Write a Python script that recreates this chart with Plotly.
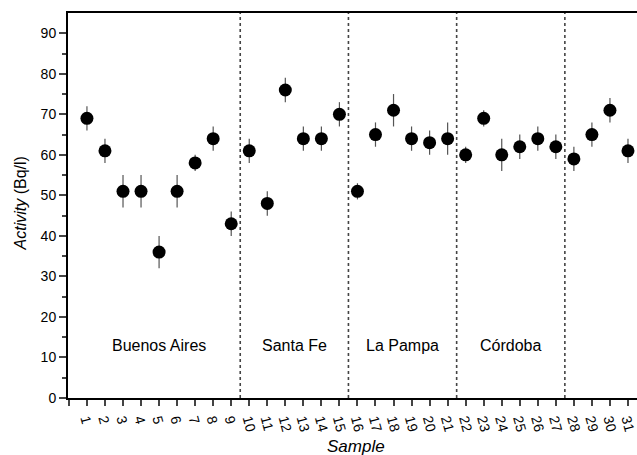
import plotly.graph_objects as go

samples = list(range(1, 32))
activity = [69, 61, 51, 51, 36, 51, 58, 64, 43,
            61, 48, 76, 64, 64, 70,
            51, 65, 71, 64, 63, 64,
            60, 69, 60, 62, 64, 62,
            59, 65, 71, 61]
errors = [3, 3, 4, 4, 4, 4, 2, 3, 3,
          3, 3, 3, 3, 3, 3,
          2, 3, 4, 3, 3, 4,
          2, 2, 4, 3, 3, 3,
          3, 3, 3, 3]
regions = ["Buenos Aires", "Santa Fe", "La Pampa", "Córdoba"]
boundaries = [0.5, 9.5, 15.5, 21.5, 27.5]
label_y = 13

fig = go.Figure()
fig.add_trace(go.Scatter(
    x=samples, y=activity, mode="markers",
    marker=dict(symbol="circle", size=13, color="black"),
    error_y=dict(type="data", array=errors, visible=True,
                 color="#555555", thickness=1.2, width=0),
    showlegend=False,
))

for b in boundaries[1:]:
    fig.add_shape(type="line", x0=b, x1=b, y0=0, y1=95, xref="x", yref="y",
                  line=dict(color="#444444", width=1.6, dash="dot"), layer="below")

for i, name in enumerate(regions):
    cx = (boundaries[i] + boundaries[i + 1]) / 2
    fig.add_annotation(x=cx, y=label_y, text=name, showarrow=False,
                       font=dict(size=16, color="black"))

# axis titles
fig.add_annotation(xref="paper", yref="paper", x=0.506, y=-0.127,
                   text="<i>Sample</i>", showarrow=False,
                   font=dict(size=17), xanchor="center", yanchor="middle")
fig.add_annotation(xref="paper", yref="paper", x=-0.084, y=0.506,
                   text="<i>Activity</i> (Bq/l)", showarrow=False, textangle=-90,
                   font=dict(size=16), xanchor="center", yanchor="middle")

font = "Liberation Sans, Arial, sans-serif"
fig.update_layout(
    width=637, height=455,
    margin=dict(l=68, r=0, t=13, b=57),
    plot_bgcolor="white", paper_bgcolor="white",
    font=dict(family=font, size=14, color="black"),
    xaxis=dict(
        range=[-0.05, 31.5], tickmode="array", tickvals=list(range(0, 32)),
        ticktext=[""] + [str(s) for s in samples],
        tickangle=75, ticks="outside", ticklen=6, tickwidth=1.5,
        showline=True, linecolor="black", linewidth=2, mirror=True,
        showgrid=False, zeroline=False, automargin=False,
        ticklabeloverflow="allow",
        tickfont=dict(size=14),
    ),
    yaxis=dict(
        range=[0, 95], tickmode="array", tickvals=list(range(0, 91, 10)),
        ticks="outside", ticklen=7, tickwidth=1.5,
        minor=dict(tickvals=list(range(5, 95, 10)), ticks="outside", ticklen=4, tickwidth=1.5),
        showline=True, linecolor="black", linewidth=2,
        showgrid=False, zeroline=False, automargin=False,
        tickfont=dict(size=14),
    ),
)

fig.write_html("out.html", config={"displayModeBar": False},
               post_script="document.body.style.margin='0';document.body.style.overflow='hidden';")
